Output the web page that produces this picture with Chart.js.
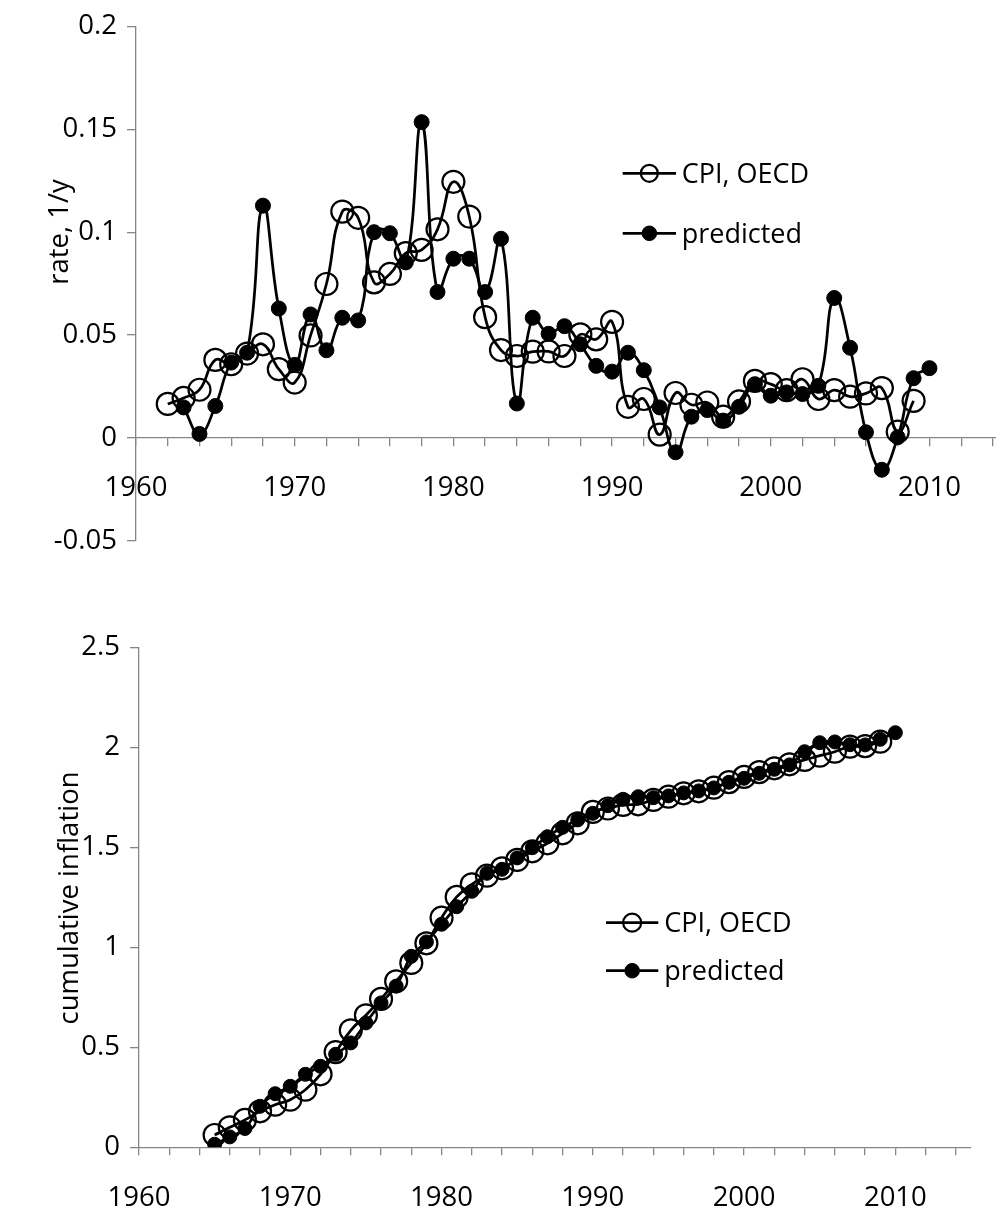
<!DOCTYPE html>
<html>
<head>
<meta charset="utf-8">
<script src="https://cdn.jsdelivr.net/npm/chart.js@4.4.1/dist/chart.umd.min.js"></script>
<style>
html,body{margin:0;padding:0;background:#fff;}
#wrap{position:relative;width:996px;height:1213px;overflow:hidden;background:#fff;}
canvas{position:absolute;left:0;}
#c1{top:0;}
#c2{top:600px;}
</style>
</head>
<body>
<div id="wrap">
<canvas id="c1" width="1030" height="600"></canvas>
<canvas id="c2" width="996" height="613"></canvas>
</div>
<script>
// ---------- data ----------
const seriesNames = ['CPI, OECD', 'predicted'];
const axisTitles = ['rate, 1/y', 'cumulative inflation'];

const rateYears = [1962,1963,1964,1965,1966,1967,1968,1969,1970,1971,1972,1973,1974,1975,1976,1977,1978,1979,1980,1981,1982,1983,1984,1985,1986,1987,1988,1989,1990,1991,1992,1993,1994,1995,1996,1997,1998,1999,2000,2001,2002,2003,2004,2005,2006,2007,2008,2009,2010];
const cpiRate = [0.0165,0.0194,0.0234,0.0379,0.0358,0.041,0.0455,0.0334,0.0269,0.0498,0.0748,0.110,0.107,0.0756,0.0797,0.0898,0.0914,0.1014,0.1245,0.1076,0.0587,0.0427,0.0398,0.0419,0.042,0.0398,0.0503,0.0479,0.0564,0.0151,0.0189,0.0016,0.0218,0.0161,0.0172,0.0103,0.0177,0.0277,0.0261,0.0232,0.0285,0.0189,0.0232,0.020,0.0216,0.0242,0.003,0.018,null];
const predRate = [null,0.0148,0.0019,0.0155,0.0366,0.0414,0.1129,0.0629,0.0355,0.060,0.0426,0.0584,0.0571,0.1000,0.0995,0.0853,0.1535,0.0709,0.0871,0.0871,0.0709,0.0968,0.0167,0.0584,0.0506,0.0543,0.0455,0.035,0.0322,0.0414,0.0329,0.0148,-0.0070,0.0103,0.0135,0.0084,0.0151,0.0261,0.0205,0.0221,0.0213,0.0253,0.068,0.0438,0.0027,-0.0155,0.0003,0.029,0.0339];

const cumYears = [1965,1966,1967,1968,1969,1970,1971,1972,1973,1974,1975,1976,1977,1978,1979,1980,1981,1982,1983,1984,1985,1986,1987,1988,1989,1990,1991,1992,1993,1994,1995,1996,1997,1998,1999,2000,2001,2002,2003,2004,2005,2006,2007,2008,2009,2010];
const cpiCum = [0.0615,0.100,0.137,0.180,0.213,0.238,0.288,0.365,0.476,0.585,0.660,0.742,0.830,0.922,1.020,1.148,1.252,1.315,1.358,1.395,1.437,1.480,1.520,1.570,1.620,1.677,1.694,1.712,1.715,1.737,1.753,1.770,1.780,1.798,1.826,1.852,1.876,1.895,1.915,1.937,1.958,1.978,2.003,2.006,2.028,null];
const predCum = [0.015,0.052,0.094,0.205,0.268,0.305,0.365,0.405,0.465,0.522,0.622,0.722,0.806,0.955,1.027,1.115,1.203,1.280,1.370,1.390,1.447,1.498,1.553,1.600,1.637,1.670,1.708,1.740,1.753,1.748,1.757,1.772,1.782,1.797,1.825,1.845,1.870,1.890,1.912,1.978,2.023,2.027,2.013,2.012,2.040,2.073];

const rateYTicks = [-0.05, 0, 0.05, 0.1, 0.15, 0.2];
const rateYLabels = ['-0.05', '0', '0.05', '0.1', '0.15', '0.2'];
const cumYTicks = [0, 0.5, 1, 1.5, 2, 2.5];
const cumYLabels = ['0', '0.5', '1', '1.5', '2', '2.5'];
const xLabelYears = [1960, 1970, 1980, 1990, 2000, 2010];
const xRange = [1960, 2015];

// ---------- helpers ----------
const FONT = "'Open Sans', 'DejaVu Sans', sans-serif";
const AX = '#868686';
Chart.defaults.font.family = FONT;
Chart.defaults.color = '#000';

function pts(xs, ys) {
  return xs.map((x, i) => ({x: x, y: ys[i]})).filter(p => p.y !== null);
}

// legend drawn inside the plot area + free-placed y-axis title
const insideLegend = {
  id: 'insideLegend',
  afterDraw(chart, args, o) {
    const ctx = chart.ctx;
    ctx.save();
    o.items.forEach((it, i) => {
      const ds = chart.data.datasets[it.index];
      const y = o.y + i * o.gap;
      ctx.strokeStyle = ds.borderColor;
      ctx.lineWidth = ds.borderWidth;
      ctx.beginPath();
      ctx.moveTo(o.x, y);
      ctx.lineTo(o.x + o.len, y);
      ctx.stroke();
      ctx.beginPath();
      ctx.arc(o.x + o.len / 2, y, it.r, 0, Math.PI * 2);
      if (ds.pointBackgroundColor && ds.pointBackgroundColor !== 'transparent') {
        ctx.fillStyle = ds.pointBackgroundColor;
        ctx.fill();
      }
      ctx.lineWidth = ds.pointBorderWidth;
      ctx.strokeStyle = ds.pointBorderColor;
      ctx.stroke();
      ctx.fillStyle = '#000';
      ctx.font = o.fontSize + 'px ' + FONT;
      ctx.textBaseline = 'alphabetic';
      ctx.textAlign = 'left';
      ctx.fillText(ds.label, o.x + o.len + o.textGap, y + o.baseOff);
    });
    if (o.title) {
      const t = o.title;
      ctx.translate(t.x, t.y);
      ctx.rotate(-Math.PI / 2);
      ctx.fillStyle = '#000';
      ctx.font = t.size + 'px ' + FONT;
      ctx.textAlign = 'center';
      ctx.textBaseline = 'middle';
      ctx.fillText(t.text, 0, 0);
    }
    ctx.restore();
  }
};

function datasets(xs, cpi, pred, rc, rp) {
  return [
    {
      label: seriesNames[0], data: pts(xs, cpi), order: 1,
      borderColor: '#000', borderWidth: 2.75, tension: 0.45,
      pointRadius: rc, pointHoverRadius: rc, pointBorderWidth: 2.2,
      pointBorderColor: '#000', pointBackgroundColor: 'transparent', fill: false
    },
    {
      label: seriesNames[1], data: pts(xs, pred), order: 0,
      borderColor: '#000', borderWidth: 2.75, tension: 0.45,
      pointRadius: rp, pointHoverRadius: rp, pointBorderWidth: 1,
      pointBorderColor: '#000', pointBackgroundColor: '#000', fill: false
    }
  ];
}

function xScale(extra) {
  return Object.assign({
    type: 'linear', min: xRange[0], max: xRange[1],
    ticks: {
      stepSize: 2, autoSkip: false, maxRotation: 0, minRotation: 0, includeBounds: false,
      padding: 26, font: {size: 27.5}, color: '#000',
      callback: v => xLabelYears.includes(v) ? String(v) : ''
    },
    grid: {drawOnChartArea: false, drawTicks: true, tickLength: 8, color: AX, lineWidth: 1.3},
    border: {display: true, color: AX, width: 1.3}
  }, extra);
}

function yScale(ticksArr, labelsArr, min, max, width, pad) {
  return {
    type: 'linear', position: 'left', min: min, max: max,
    afterBuildTicks: s => { s.ticks = ticksArr.map(v => ({value: v})); },
    afterFit: s => { s.width = width; },
    ticks: {
      padding: pad, font: {size: 27.5}, color: '#000',
      callback: (v, i) => labelsArr[i]
    },
    grid: {drawOnChartArea: false, drawTicks: true, tickLength: 9, color: AX, lineWidth: 1.3},
    border: {display: true, color: AX, width: 1.3},
    title: {display: false}
  };
}

// ---------- top chart ----------
new Chart(document.getElementById('c1'), {
  type: 'line',
  data: {datasets: datasets(rateYears, cpiRate, predRate, 11, 7.5)},
  options: {
    responsive: false, animation: false, devicePixelRatio: 1,
    layout: {padding: {left: 0, top: 24, right: 21.2, bottom: 59.3}},
    plugins: {
      legend: {display: false}, tooltip: {enabled: false},
      insideLegend: {
        x: 622.7, y: 173.3, gap: 60, len: 53.3, textGap: 5.7, baseOff: 9.5, fontSize: 27,
        items: [{index: 0, r: 8.5}, {index: 1, r: 7.3}],
        title: {text: axisTitles[0], x: 60, y: 232, size: 27.5}
      }
    },
    scales: {
      x: xScale({position: {y: 0}, afterFit: s => { s.height = 0; }}),
      y: yScale(rateYTicks, rateYLabels, -0.05, 0.2, 136, 10)
    }
  },
  plugins: [insideLegend]
});

// ---------- bottom chart ----------
new Chart(document.getElementById('c2'), {
  type: 'line',
  data: {datasets: datasets(cumYears, cpiCum, predCum, 11, 7)},
  options: {
    responsive: false, animation: false, devicePixelRatio: 1,
    layout: {padding: {left: 0, top: 47.3, right: 25, bottom: 0}},
    plugins: {
      legend: {display: false}, tooltip: {enabled: false},
      insideLegend: {
        x: 606, y: 322.7, gap: 48, len: 52.3, textGap: 6, baseOff: 9.5, fontSize: 27,
        items: [{index: 0, r: 9}, {index: 1, r: 7.3}],
        title: {text: axisTitles[1], x: 70, y: 298, size: 27.5}
      }
    },
    scales: {
      x: xScale({position: 'bottom', afterFit: s => { s.height = 65.7; }}),
      y: yScale(cumYTicks, cumYLabels, 0, 2.5, 139, 10)
    }
  },
  plugins: [insideLegend]
});
</script>
</body>
</html>
